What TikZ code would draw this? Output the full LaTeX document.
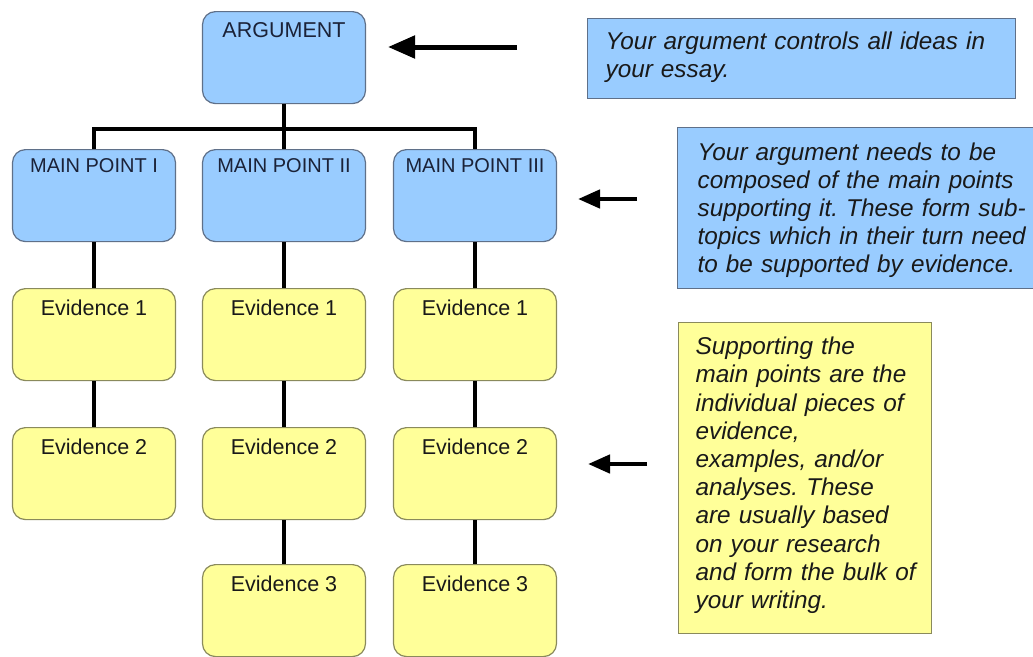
\documentclass[tikz,border=0pt]{standalone}
\usepackage{fontspec}
\setmainfont{Liberation Sans}
\usepackage{tikz}
\usetikzlibrary{arrows.meta}
\frenchspacing
\definecolor{blue200}{HTML}{99CCFF}
\definecolor{blueline}{HTML}{5F7089}
\definecolor{yellow100}{HTML}{FFFF99}
\definecolor{yellowline}{HTML}{8A8A5C}
\definecolor{ink}{HTML}{1B2238}
\tikzstyle{topic}=[rectangle, rounded corners=13pt, draw=blueline, line width=1.2pt, fill=blue200, text=ink, inner sep=0pt, minimum width=163pt, anchor=north, font=\fontsize{20}{24}\selectfont, text height=23pt, text depth=69pt]
\tikzstyle{evidence}=[rectangle, rounded corners=13pt, draw=yellowline, line width=1.2pt, fill=yellow100, text=black!90, inner sep=0pt, minimum width=163pt, anchor=north, font=\fontsize{21.5}{24}\selectfont, text height=27pt, text depth=65pt]
\tikzstyle{note}=[rectangle, draw=blueline, line width=1.2pt, fill=blue200, text=black!90, anchor=north west, inner ysep=0pt, align=left, font=\itshape\fontsize{24.3}{28.2}\selectfont]
\tikzstyle{link}=[draw=black, line width=4pt]
\tikzstyle{pointer}=[draw=black, line width=5pt, -{Triangle[length=27pt, width=22pt]}]

\begin{document}
\begin{tikzpicture}[x=1pt, y=-1pt]
	\useasboundingbox (0,0) rectangle (1033,656);
	\fill[white] (0,0) rectangle (1033,656);
	% tree
	\node[topic, text height=26pt, text depth=66pt, font=\fontsize{21.5}{24}\selectfont] (arg) at (284,11) {ARGUMENT};
	\node[topic] (mp1) at (94,149) {MAIN POINT I};
	\node[topic] (mp2) at (284,149) {MAIN POINT II};
	\node[topic] (mp3) at (475,149) {MAIN POINT III};
	\node[evidence] (e11) at (94,288) {Evidence 1};
	\node[evidence] (e21) at (284,288) {Evidence 1};
	\node[evidence] (e31) at (475,288) {Evidence 1};
	\node[evidence] (e12) at (94,427) {Evidence 2};
	\node[evidence] (e22) at (284,427) {Evidence 2};
	\node[evidence] (e32) at (475,427) {Evidence 2};
	\node[evidence] (e23) at (284,564) {Evidence 3};
	\node[evidence] (e33) at (475,564) {Evidence 3};
	\coordinate (bar) at (284,129);
	\draw[link] (mp1.north) |- (bar) -| (mp3.north);
	\draw[link] (arg.south) -- (mp2.north);
	\draw[link] (mp1.south) -- (e11.north) (e11.south) -- (e12.north);
	\draw[link] (mp2.south) -- (e21.north) (e21.south) -- (e22.north) (e22.south) -- (e23.north);
	\draw[link] (mp3.south) -- (e31.north) (e31.south) -- (e32.north) (e32.south) -- (e33.north);
	% notes
	\node[note, inner xsep=18pt, text width=392pt, text height=31pt, text depth=49pt] (n1) at (587,18) {Your argument controls all ideas in\\your essay.};
	\node[note, inner xsep=20pt, text width=340pt, text height=32.5pt, text depth=128.5pt] (n2) at (677,127) {Your argument needs to be\\composed of the main points\\supporting it. These form sub-\\topics which in their turn need\\to be supported by evidence.};
	\node[note, draw=yellowline, fill=yellow100, inner xsep=17pt, text width=219pt, text height=32pt, text depth=279pt] (n3) at (678,322) {Supporting the\\main points are the\\individual pieces of\\evidence,\\examples, and/or\\analyses. These\\are usually based\\on your research\\\mbox{and form the bulk of}\\your writing.};
	% pointers
	\coordinate (p1s) at (517,47); \coordinate (p1e) at (388,47);
	\coordinate (p2s) at (637,199); \coordinate (p2e) at (578,199);
	\coordinate (p3s) at (647,464); \coordinate (p3e) at (588,464);
	\draw[pointer] (p1s) -- (p1e);
	\draw[pointer, line width=4.5pt, -{Triangle[length=22pt, width=18pt]}] (p2s) -- (p2e);
	\draw[pointer, line width=4.5pt, -{Triangle[length=22pt, width=18pt]}] (p3s) -- (p3e);
\end{tikzpicture}
\end{document}
